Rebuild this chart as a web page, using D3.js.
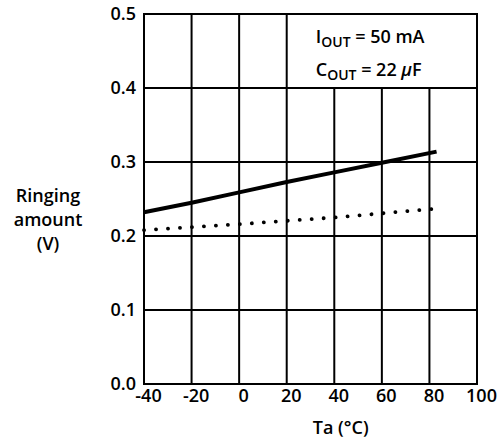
<!DOCTYPE html>
<html>
<head>
<meta charset="utf-8">
<script src="https://cdn.jsdelivr.net/npm/d3@7"></script>
<style>
  body { margin: 0; background: #fff; }
  text { font-family: "Open Sans", sans-serif; font-weight: 600; fill: #000; }
</style>
</head>
<body>
<div id="chart"></div>
<script>
// temperatures (°C)
const solidTa = [-40, -20, 0, 20, 40, 60, 83];
const solidRinging = [0.232, 0.245, 0.259, 0.273, 0.286, 0.299, 0.314];
const dottedTa = [-40, 0, 40, 83];
const dottedRinging = [0.208, 0.216, 0.225, 0.237];

const xTicks = [-40, -20, 0, 20, 40, 60, 80, 100];
const yTicks = [0, 0.1, 0.2, 0.3, 0.4, 0.5];
// [main, subscript, rest, italic unit prefix, unit]
const legendLines = [["I", "OUT", " = 50 mA", "", ""], ["C", "OUT", " = 22 ", "\u03bc", "F"]];

ringingChart();

function ringingChart() {

    let margin = { top: 14, right: 26, bottom: 61, left: 144 },
        width = 503 - margin.left - margin.right,
        height = 445 - margin.top - margin.bottom;

    let svg = d3.select("#chart").append("svg")
        .attr("width", 503)
        .attr("height", 445)
        .append("g")
        .attr("transform", "translate(" + margin.left + "," + margin.top + ")");

    let x = d3.scaleLinear().domain([-40, 100]).range([0, width]);
    let y = d3.scaleLinear().domain([0, 0.5]).range([height, 0]);

    // legend box covers the grid from 20 °C to the right, 0.4 to 0.5
    let boxLeft = 20, boxBottom = 0.4;

    // vertical grid
    svg.selectAll(".vgrid")
        .data(xTicks.slice(1, -1))
        .enter()
        .append("line")
        .attr("x1", d => x(d))
        .attr("x2", d => x(d))
        .attr("y1", y(0))
        .attr("y2", d => d > boxLeft ? y(boxBottom) : y(0.5))
        .attr("stroke", "#000")
        .attr("stroke-width", 2);

    // horizontal grid
    svg.selectAll(".hgrid")
        .data(yTicks.slice(1, -1))
        .enter()
        .append("line")
        .attr("x1", x(-40))
        .attr("x2", x(100))
        .attr("y1", d => y(d))
        .attr("y2", d => y(d))
        .attr("stroke", "#000")
        .attr("stroke-width", 2);

    // frame
    svg.append("rect")
        .attr("x", 0)
        .attr("y", 0)
        .attr("width", width)
        .attr("height", height)
        .attr("fill", "none")
        .attr("stroke", "#000")
        .attr("stroke-width", 2);

    // axes (labels only, the frame draws the lines)
    let xAxis = svg.append("g")
        .attr("transform", "translate(0," + height + ")")
        .call(d3.axisBottom(x).tickValues(xTicks).tickFormat(d => String(d)).tickSize(0).tickPadding(5));
    xAxis.select(".domain").remove();
    xAxis.selectAll("text")
        .attr("dx", 4)
        .style("font-size", "18px")
        .style("font-family", "Open Sans")
        .style("font-weight", 600);

    let yAxis = svg.append("g")
        .call(d3.axisLeft(y).tickValues(yTicks).tickFormat(d3.format(".1f")).tickSize(0).tickPadding(8));
    yAxis.select(".domain").remove();
    yAxis.selectAll("text")
        .style("font-size", "18px")
        .style("font-family", "Open Sans")
        .style("font-weight", 600);

    let line = d3.line()
        .x(d => x(d[0]))
        .y(d => y(d[1]));

    svg.append("path")
        .datum(d3.zip(solidTa, solidRinging))
        .attr("d", line)
        .attr("fill", "none")
        .attr("stroke", "#000")
        .attr("stroke-width", 4);

    svg.append("path")
        .datum(d3.zip(dottedTa, dottedRinging))
        .attr("d", line)
        .attr("fill", "none")
        .attr("stroke", "#000")
        .attr("stroke-width", 3.8)
        .attr("stroke-linecap", "round")
        .attr("stroke-dasharray", "0.1,11.9");

    // legend text
    let legend = svg.append("g")
        .attr("transform", "translate(" + (x(boxLeft) + 29) + ",0)");
    legend.selectAll("text")
        .data(legendLines)
        .enter()
        .append("text")
        .attr("y", (d, i) => 29 + i * 33)
        .style("font-size", "18px")
        .each(function(d) {
            let t = d3.select(this);
            t.append("tspan").text(d[0]);
            t.append("tspan").attr("dy", 4).style("font-size", "14px").text(d[1]);
            t.append("tspan").attr("dy", -4).text(d[2]);
            if (d[3]) t.append("tspan").style("font-style", "italic").text(d[3]);
            if (d[4]) t.append("tspan").text(d[4]);
        });

    // axis titles
    svg.append("text")
        .attr("x", x(20) + 54)
        .attr("y", height + 50)
        .style("text-anchor", "middle")
        .style("font-size", "18px")
        .text("Ta (\u00b0C)");

    svg.append("text")
        .attr("transform", "translate(" + (48 - margin.left) + "," + 188 + ")")
        .style("text-anchor", "middle")
        .style("font-size", "18px")
        .selectAll("tspan")
        .data(["Ringing", "amount", "(V)"])
        .enter()
        .append("tspan")
        .attr("x", 0)
        .attr("dy", (d, i) => i === 0 ? 0 : 24)
        .text(d => d);
}
</script>
</body>
</html>
